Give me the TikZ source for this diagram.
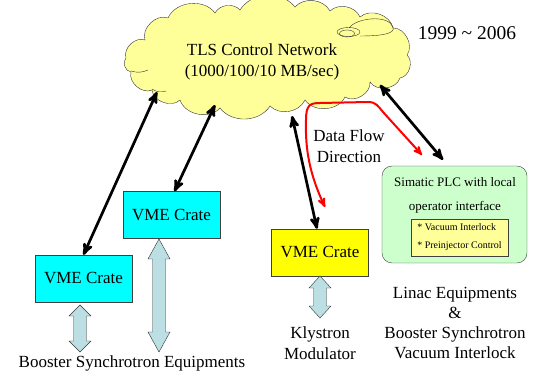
\documentclass[tikz,border=0pt]{standalone}
\usepackage{fontspec}
\setmainfont{Liberation Serif}
\usetikzlibrary{arrows}

\definecolor{cloudyellow}{HTML}{FFFF99}
\definecolor{cratecyan}{HTML}{00FFFF}
\definecolor{crateyellow}{HTML}{FFFF00}
\definecolor{plcgreen}{HTML}{CCFFCC}
\definecolor{arrowblue}{HTML}{BCDFE3}

\tikzset{
 crate/.style={draw=black!75, minimum width=97pt, minimum height=47pt, inner sep=0pt, font=\fontsize{17}{20}\selectfont},
 netlink/.style={black, line width=2.7pt, <->, >=stealth'},
 bigtext/.style={font=\fontsize{17}{21}\selectfont, align=center, inner sep=0pt},
}

\begin{document}
\begin{tikzpicture}[x=1pt,y=-1pt]
\useasboundingbox (0,0) rectangle (541,374);

% network cloud
\draw[black!80, fill=cloudyellow] (126,58) to[bend left=65] (145,40) to[bend left=65] (168,18)
 to[bend left=60] (215,13) to[bend left=55] (240,10) to[bend left=55] (295,7) to[bend left=55] (330,11)
 to[bend left=55] (360,17) to[bend left=60] (393,28) to[bend left=65] (407,55) to[bend left=65] (400,78)
 to[bend left=65] (370,82) to[bend left=65] (345,97) to[bend left=60] (305,100) to[bend left=55] (270,106)
 to[bend left=55] (220,108) to[bend left=60] (180,100) to[bend left=65] (152,90) to[bend left=65] (131,72)
 to[bend left=65] cycle;
\draw[black!80] (131,71) to[bend right=20] (148,70);
\draw[black!80] (152,89) to[bend right=25] (166,91);
\draw[black!80] (347,33.5) ellipse (7.5 and 3.5);
\draw[black!80] (348.5,32) ellipse (11.5 and 4.5);
\draw[black!80] (349,28) .. controls (356,18) and (388,14) .. (393,27) .. controls (396,34) and (380,36) .. (360,36);
\node[bigtext] (title) at (262,62) {TLS Control Network\\(1000/100/10 MB/sec)};
\node[font=\fontsize{19.5}{22}\selectfont, inner sep=0pt] (years) at (467,33) {1999 \textasciitilde{} 2006};
\coordinate (net-a) at (157,92);
\coordinate (net-b) at (215,105);
\coordinate (net-c) at (292,116);
\coordinate (net-d) at (380,85);

% crates
\node[crate, fill=cratecyan] (lcrate) at (83.5,278.5) {VME Crate};
\node[crate, fill=cratecyan] (mcrate) at (171.5,215) {VME Crate};
\node[crate, fill=crateyellow] (kcrate) at (320,252.5) {VME Crate};

% plc
\node[draw=black!75, fill=plcgreen, rounded corners=10pt, minimum width=145pt, minimum height=97pt] (plc) at (454.5,214.5) {};
\node[font=\fontsize{13}{24}\selectfont, align=center, inner sep=0pt] (plctext) at (455,195) {Simatic PLC with local\\operator interface};
\node[draw=black!75, fill=cloudyellow, minimum width=97pt, minimum height=37pt, inner sep=0pt, align=left, font=\fontsize{10}{18}\selectfont] (tasks) at (459.5,237.5) {* Vacuum Interlock\\* Preinjector Control};

% links to the network
\draw[netlink] (net-a) -- (lcrate.north);
\draw[netlink] (net-b) -- ([xshift=3pt]mcrate.north);
\draw[netlink] (net-c) -- ([xshift=-3pt]kcrate.north);
\draw[netlink] (net-d) -- ([xshift=-11.5pt,yshift=6pt]plc.north);

% data flow
\draw[red, line width=2pt, <->, >=stealth'] (325,207) .. controls (310,175) and (305,150) .. (306,120) .. controls (306,105) and (310,103) .. (320,103) -- (368,102) .. controls (376,102) and (378,106) .. (383,112) -- (422,155);
\node[bigtext] (flow) at (349,146) {Data Flow\\Direction};

% equipment links
\foreach \x/\ya/\yb/\h in {80/305/352/11, 159/239/352/20, 320/276/318/12}
 \draw[fill=arrowblue, draw=black!80] (\x,\ya) -- (\x+11,\ya+\h) -- (\x+6.5,\ya+\h) -- (\x+6.5,\yb-\h) -- (\x+11,\yb-\h) -- (\x,\yb) -- (\x-11,\yb-\h) -- (\x-6.5,\yb-\h) -- (\x-6.5,\ya+\h) -- (\x-11,\ya+\h) -- cycle;

\node[bigtext] (booster) at (132,363) {Booster Synchrotron Equipments};
\node[bigtext] (klystron) at (320,343) {Klystron\\Modulator};
\node[font=\fontsize{17}{20}\selectfont, align=center, inner sep=0pt] (linac) at (455,323) {Linac Equipments\\\&\\Booster Synchrotron\\Vacuum Interlock};
\end{tikzpicture}
\end{document}
